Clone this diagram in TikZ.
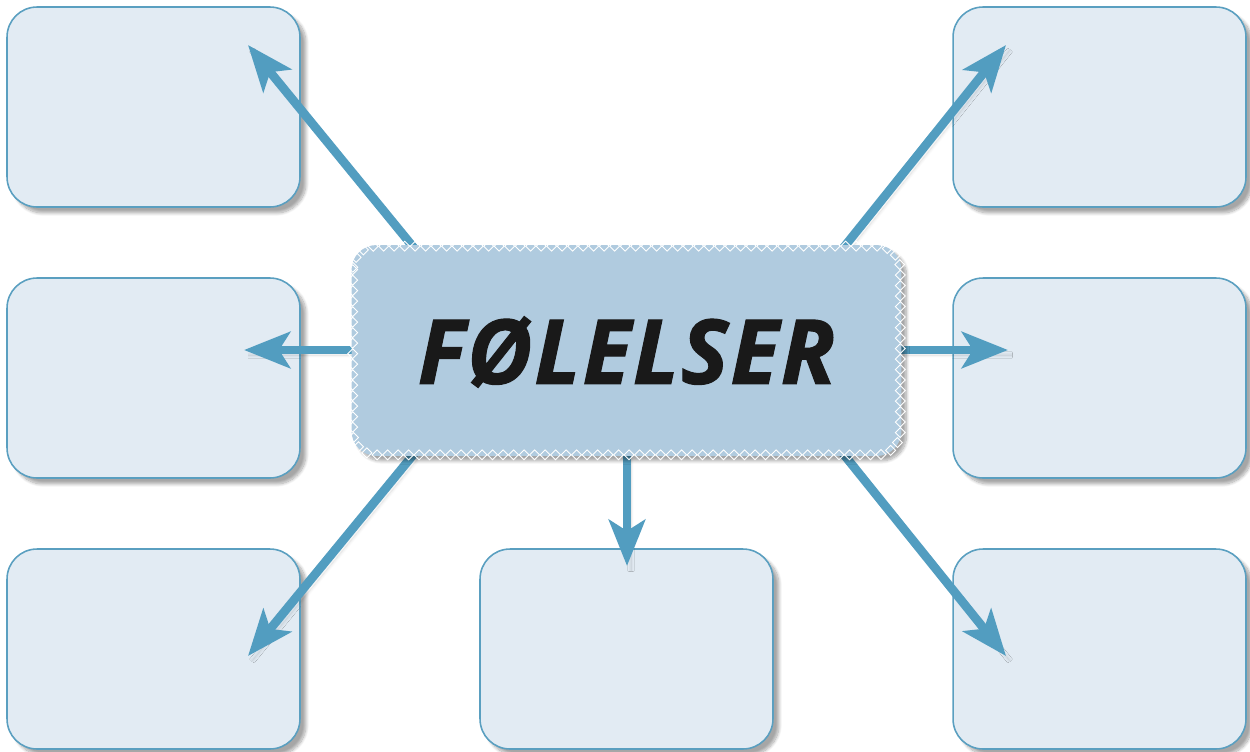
\documentclass[tikz,border=0pt]{standalone}
\usepackage{fontspec}
\newfontfamily\headfont[LetterSpace=2,FakeBold=1.2]{Open Sans}
\usetikzlibrary{arrows.meta,shadows.blur,decorations.markings}
\definecolor{boxfill}{HTML}{E2EBF3}
\definecolor{boxline}{HTML}{5A9FC0}
\definecolor{arrowc}{HTML}{529DC0}
\definecolor{centerfill}{HTML}{B0CBDF}
\tikzset{
  box/.style={draw=boxline, line width=0.9pt, fill=boxfill, rounded corners=0.6cm,
    minimum width=5.86cm, minimum height=4cm, inner sep=0pt,
    blur shadow={shadow xshift=0.12cm, shadow yshift=-0.12cm, shadow blur steps=10, shadow opacity=35}},
  conn/.style={draw=arrowc, line width=5pt,
    -{Stealth[length=0.92cm, width=0.72cm, inset=0.22cm]},
    blur shadow={shadow xshift=0.08cm, shadow yshift=-0.1cm, shadow blur steps=8, shadow opacity=15}},
  diamonds/.style={postaction={decorate}, decoration={markings,
    mark=between positions 0 and 1 step 0.21cm with {\node[draw=white, sharp corners, line width=0.5pt, rotate=45,
      minimum size=0.14cm, inner sep=0pt] {};}}}
}
\begin{document}
\begin{tikzpicture}[x=0.02cm, y=-0.02cm]
\useasboundingbox (0,0) rectangle (1250,751);
% outer boxes
\node[box] (tl) at (153.5,107) {};
\node[box] (ml) at (153.5,378) {};
\node[box] (bl) at (153.5,649) {};
\node[box] (bc) at (626.5,649) {};
\node[box] (tr) at (1099.5,107) {};
\node[box] (mr) at (1099.5,378) {};
\node[box] (br) at (1099.5,649) {};
% arrow coordinates
\coordinate (sTL) at (450,292);
\coordinate (eTL) at (248,45);
\coordinate (sTR) at (808,292);
\coordinate (eTR) at (1006,45);
\coordinate (sML) at (420,350);
\coordinate (eML) at (244,350);
\coordinate (sMR) at (840,350);
\coordinate (eMR) at (1008,350);
\coordinate (sBL) at (450,410);
\coordinate (eBL) at (248,656);
\coordinate (sBC) at (627,420);
\coordinate (eBC) at (627,566);
\coordinate (sBR) at (808,410);
\coordinate (eBR) at (1006,656);
\draw[conn] (sTL) -- (eTL);
\draw[conn] (sTR) -- (eTR);
\draw[conn] (sML) -- (eML);
\draw[conn] (sMR) -- (eMR);
\draw[conn] (sBL) -- (eBL);
\draw[conn] (sBC) -- (eBC);
\draw[conn] (sBR) -- (eBR);
% center box
\node[fill=centerfill, rounded corners=0.5cm, minimum width=11.0cm, minimum height=4.22cm, inner sep=0pt,
  blur shadow={shadow xshift=0.1cm, shadow yshift=-0.1cm, shadow blur steps=10, shadow opacity=35}]
  (c) at (626.5,350.5) {};
\path[diamonds] ([xshift=0.03cm,yshift=-0.03cm]c.north west) [rounded corners=0.47cm] rectangle ([xshift=-0.03cm,yshift=0.03cm]c.south east);
\node[text=black!90, inner sep=0pt] (lbl) at (626.5,352) {\fontsize{51}{57}\selectfont\headfont\bfseries\itshape FØLELSER};
\end{tikzpicture}
\end{document}
